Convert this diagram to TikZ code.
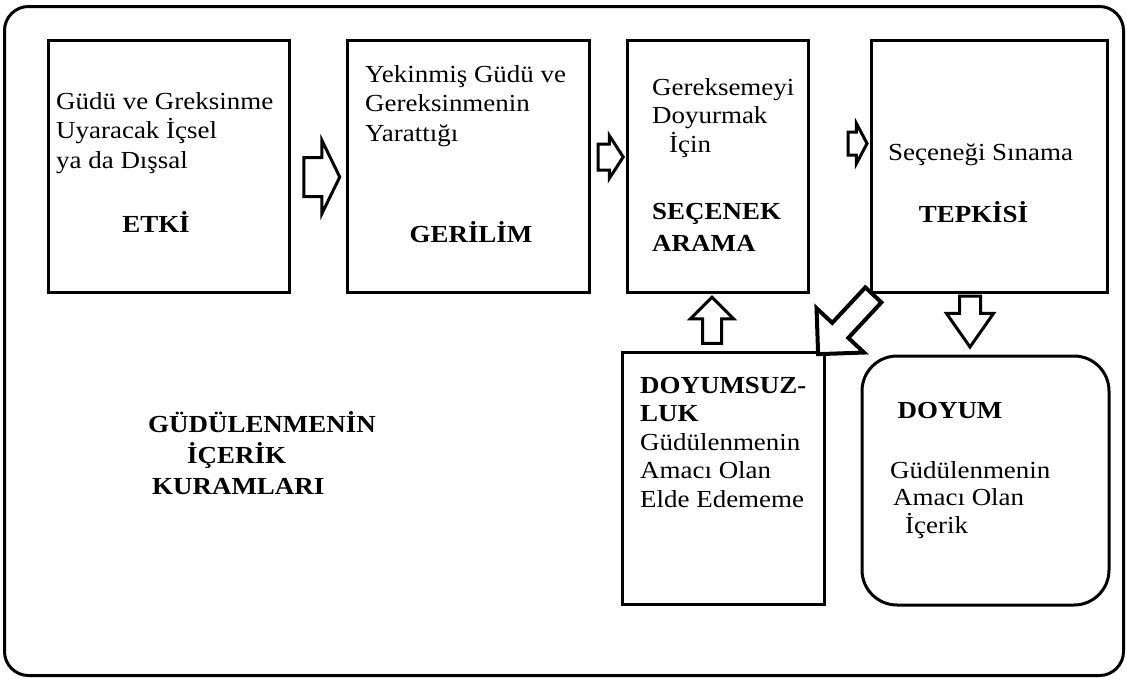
\documentclass[tikz,border=0pt]{standalone}
\usepackage{fontspec}
\setmainfont{Liberation Serif}[FakeStretch=1.1]
\usetikzlibrary{positioning, shapes.arrows}

\begin{document}
\begin{tikzpicture}[x=1pt, y=-1pt, node distance=58pt,
	box/.style={draw, line width=3pt, minimum height=252pt, inner sep=0pt, outer sep=0pt},
	txt/.style={anchor=north west, align=left, inner sep=0pt, font=\fontsize{24.5}{29.5}\selectfont},
	ttl/.style={anchor=base, inner sep=0pt, font=\fontsize{24.5}{31}\selectfont\bfseries},
	blk/.style={single arrow, draw, line width=3pt, fill=white, inner xsep=0pt}]
	\useasboundingbox (0,0) rectangle (1127,678);
	\draw[line width=3pt, rounded corners=24pt] (4.5,6.5) rectangle (1123.5,675.5);

	\node[box, minimum width=241pt] 				(b1) 	at (168.5,166) {};
	\node[box, minimum width=242pt] 				(b2) [right=58pt of b1] {};
	\node[box, minimum width=181pt] 				(b3) [right=38pt of b2] {};
	\node[box, minimum width=236pt] 				(b4) [right=63pt of b3] {};
	\node[box, minimum width=202pt] 				(b5) [below=60pt of b3, xshift=5.5pt] {};
	\node[box, minimum width=247pt, minimum height=249pt, rounded corners=35pt] (b6) [below=64pt of b4, xshift=-3.5pt] {};

	\node[txt] 				(t1) at ([shift={(8,52)}]b1.north west) {Güdü ve Greksinme\\Uyaracak İçsel\\ya da Dışsal};
	\node[ttl] 				(e1) at ([shift={(108,192)}]b1.north west) {ETKİ};
	\node[txt] 				(t2) at ([shift={(18,25)}]b2.north west) {Yekinmiş Güdü ve\\Gereksinmenin\\Yarattığı};
	\node[ttl] 				(e2) at ([shift={(124,202)}]b2.north west) {GERİLİM};
	\node[txt, font=\fontsize{24.5}{28.5}\selectfont] (t3) at ([shift={(25,38)}]b3.north west) {Gereksemeyi\\Doyurmak\\\hspace*{17pt}İçin};
	\node[txt, font=\fontsize{24.5}{32}\selectfont\bfseries] (e3) at ([shift={(25,163)}]b3.north west) {SEÇENEK\\ARAMA};
	\node[txt, anchor=base west] (t4) at ([shift={(17,120)}]b4.north west) {Seçeneği Sınama};
	\node[ttl] 				(e4) at ([shift={(102.5,182)}]b4.north west) {TEPKİSİ};
	\node[txt, font=\fontsize{24.5}{28.5}\selectfont] (t5) at ([shift={(18,25)}]b5.north west) {\textbf{DOYUMSUZ-}\\\textbf{LUK}\\Güdülenmenin\\Amacı Olan\\Elde Edememe};
	\node[ttl] 				(e6) at ([shift={(88,62)}]b6.north west) {DOYUM};
	\node[txt, font=\fontsize{24.5}{27.5}\selectfont] (t6) at ([shift={(28,105)}]b6.north west) {Güdülenmenin\\\hspace*{3pt}Amacı Olan\\\hspace*{15pt}İçerik};
	\node[txt, font=\fontsize{24.5}{31}\selectfont\bfseries] (k1) at (148,411) {GÜDÜLENMENİN\\\hspace*{39pt}İÇERİK\\\hspace*{4pt}KURAMLARI};

	\node[blk, inner ysep=18pt, minimum height=36pt, single arrow head extend=17pt, single arrow tip angle=128] (a1) at (317,177) {};
	\node[blk, inner ysep=11.5pt, minimum height=25pt, single arrow head extend=8.5pt, single arrow tip angle=114] (a2) at (606.5,157) {};
	\node[blk, inner ysep=10pt, minimum height=19pt, single arrow head extend=8.5pt, single arrow tip angle=124] (a3) at (854.5,143.5) {};
	\node[blk, inner ysep=8pt, minimum height=46pt, single arrow head extend=12pt, single arrow tip angle=90, rotate=90] (a4) at (712,325) {};
	\node[blk, inner ysep=9pt, minimum height=51pt, single arrow head extend=13pt, single arrow tip angle=70, rotate=-90] (a5) at (970,314) {};
	\node[blk, line width=4pt, inner ysep=9pt, minimum height=81pt, single arrow head extend=21.5pt, single arrow tip angle=90, rotate=227] (a6) at (849.5,320.5) {};
\end{tikzpicture}
\end{document}
